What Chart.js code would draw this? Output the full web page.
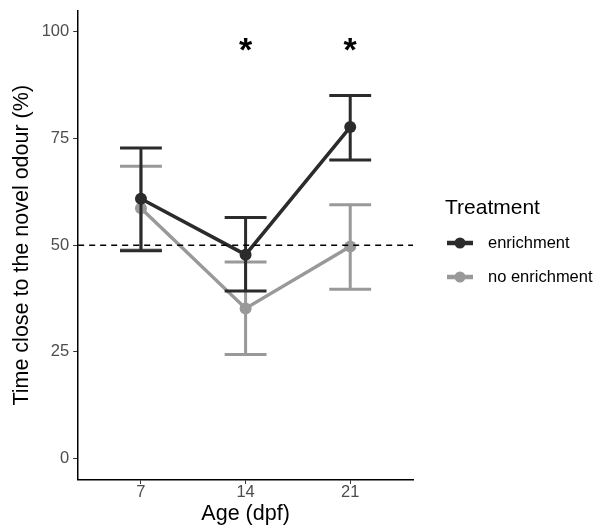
<!DOCTYPE html>
<html>
<head>
<meta charset="utf-8">
<script src="https://cdn.jsdelivr.net/npm/chart.js@4"></script>
<style>
  html, body { margin: 0; padding: 0; background: #fff; }
  #wrap { width: 603px; height: 529px; position: relative; }
</style>
</head>
<body>
<div id="wrap"><canvas id="chart"></canvas></div>
<script>
// Data
const ages = ['7', '14', '21'];
const enrichMean = [60.9, 47.8, 77.7];
const enrichLow = [48.7, 39.3, 70.0];
const enrichHigh = [72.8, 56.5, 85.1];
const noEnrichMean = [58.7, 35.2, 49.7];
const noEnrichLow = [48.9, 24.4, 39.7];
const noEnrichHigh = [68.5, 46.1, 59.5];
const yTicks = [0, 25, 50, 75, 100];
const signif = ['', '*', '*'];
const chanceLevel = 50;

const darkColor = '#2b2b2b';
const greyColor = '#999999';
const fontFamily = 'Arial, "Liberation Sans", sans-serif';

// x positions for the discrete ages (1, 2, 3)
const toPoints = (vals) => vals.map((v, i) => ({ x: i + 1, y: v }));

// Error bars drawn right before each dataset so the layering matches
const errorBarPlugin = {
  id: 'errorBars',
  beforeDatasetDraw(chart, args) {
    const ds = chart.data.datasets[args.index];
    const { ctx, scales } = chart;
    ctx.save();
    ctx.strokeStyle = ds.borderColor;
    ctx.lineWidth = 3;
    ctx.lineCap = 'butt';
    ds.low.forEach((lo, i) => {
      const x = scales.x.getPixelForValue(i + 1);
      const x0 = scales.x.getPixelForValue(i + 1 - 0.2);
      const x1 = scales.x.getPixelForValue(i + 1 + 0.2);
      const yLo = scales.y.getPixelForValue(lo);
      const yHi = scales.y.getPixelForValue(ds.high[i]);
      ctx.beginPath();
      ctx.moveTo(x, yLo); ctx.lineTo(x, yHi);
      ctx.moveTo(x0, yLo); ctx.lineTo(x1, yLo);
      ctx.moveTo(x0, yHi); ctx.lineTo(x1, yHi);
      ctx.stroke();
    });
    ctx.restore();
  }
};

// Dashed reference line, significance stars and the legend
const extrasPlugin = {
  id: 'extras',
  afterDatasetsDraw(chart) {
    const { ctx, scales, chartArea } = chart;
    ctx.save();
    // dashed line at 50
    const y50 = scales.y.getPixelForValue(chanceLevel);
    ctx.strokeStyle = '#000';
    ctx.lineWidth = 1.5;
    ctx.setLineDash([6, 5]);
    ctx.beginPath();
    ctx.moveTo(chartArea.left, y50);
    ctx.lineTo(chartArea.right, y50);
    ctx.stroke();
    ctx.setLineDash([]);

    // stars
    ctx.fillStyle = '#000';
    ctx.font = 'bold 34px ' + fontFamily;
    ctx.textAlign = 'center';
    ctx.textBaseline = 'middle';
    signif.forEach((s, i) => {
      if (!s) return;
      ctx.fillText(s, scales.x.getPixelForValue(i + 1), scales.y.getPixelForValue(95.3));
    });

    // legend
    const lx = chartArea.right + 32;
    ctx.textAlign = 'left';
    ctx.textBaseline = 'middle';
    ctx.font = '21px ' + fontFamily;
    ctx.fillStyle = '#000';
    ctx.fillText('Treatment', lx, 208);
    chart.data.datasets.forEach((ds, i) => {
      const cy = 243 + i * 34;
      ctx.strokeStyle = ds.borderColor;
      ctx.lineWidth = 4.5;
      ctx.beginPath();
      ctx.moveTo(lx + 2, cy);
      ctx.lineTo(lx + 28, cy);
      ctx.stroke();
      ctx.fillStyle = ds.borderColor;
      ctx.beginPath();
      ctx.arc(lx + 15, cy, 5.5, 0, Math.PI * 2);
      ctx.fill();
      ctx.fillStyle = '#000';
      ctx.font = '16.5px ' + fontFamily;
      ctx.fillText(ds.label, lx + 43, cy);
    });
    ctx.restore();
  }
};

new Chart(document.getElementById('chart'), {
  type: 'line',
  data: {
    datasets: [
      {
        label: 'enrichment',
        data: toPoints(enrichMean),
        low: enrichLow,
        high: enrichHigh,
        borderColor: darkColor,
        backgroundColor: darkColor,
        borderWidth: 3.5,
        pointRadius: 6,
        pointBorderWidth: 0,
        pointHoverRadius: 6
      },
      {
        label: 'no enrichment',
        data: toPoints(noEnrichMean),
        low: noEnrichLow,
        high: noEnrichHigh,
        borderColor: greyColor,
        backgroundColor: greyColor,
        borderWidth: 3.5,
        pointRadius: 6,
        pointBorderWidth: 0,
        pointHoverRadius: 6
      }
    ]
  },
  options: {
    responsive: true,
    maintainAspectRatio: false,
    animation: false,
    layout: { padding: { left: 10, right: 190, top: 10, bottom: 0 } },
    plugins: {
      legend: { display: false },
      tooltip: { enabled: false }
    },
    scales: {
      x: {
        type: 'linear',
        min: 0.4,
        max: 3.6,
        afterBuildTicks: (axis) => { axis.ticks = ages.map((a, i) => ({ value: i + 1 })); },
        ticks: {
          callback: (v) => ages[v - 1],
          color: '#4d4d4d',
          font: { size: 16.5, family: fontFamily, lineHeight: 0.85 },
          padding: 1,
          maxRotation: 0
        },
        grid: { drawOnChartArea: false, drawTicks: true, tickLength: 4, color: '#333', lineWidth: 1 },
        border: { display: true, color: '#000', width: 1.5 },
        title: {
          display: true,
          text: 'Age (dpf)',
          color: '#000',
          font: { size: 21.5, family: fontFamily, lineHeight: 1.35 },
          padding: { top: 0, bottom: 0 }
        }
      },
      y: {
        min: -5,
        max: 105,
        afterBuildTicks: (axis) => { axis.ticks = yTicks.map(v => ({ value: v })); },
        ticks: {
          color: '#4d4d4d',
          font: { size: 16.5, family: fontFamily, lineHeight: 0.8 },
          padding: 4
        },
        grid: { drawOnChartArea: false, drawTicks: true, tickLength: 5, color: '#333', lineWidth: 1 },
        border: { display: true, color: '#000', width: 1.5 },
        title: {
          display: true,
          text: 'Time close to the novel odour (%)',
          color: '#000',
          font: { size: 21.5, family: fontFamily, lineHeight: 1.1 },
          padding: { top: 0, bottom: 4 }
        }
      }
    }
  },
  plugins: [errorBarPlugin, extrasPlugin]
});
</script>
</body>
</html>
